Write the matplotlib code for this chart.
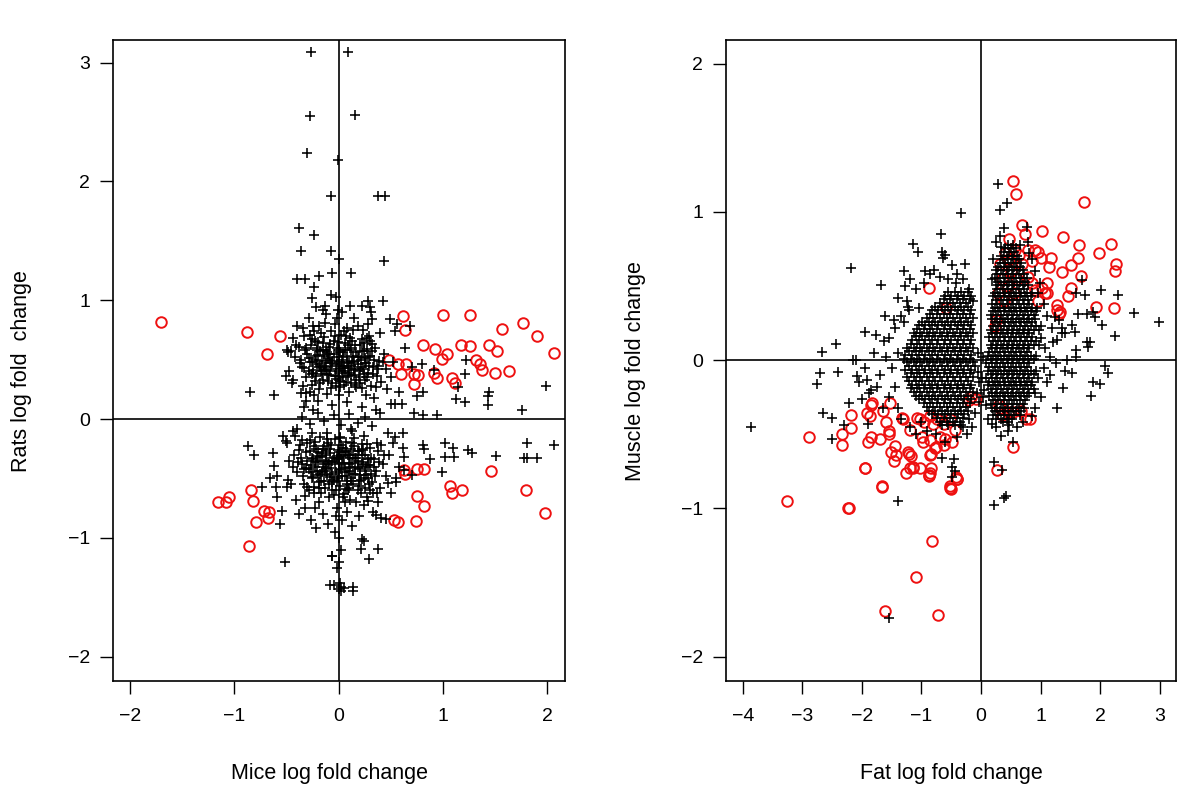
import matplotlib
matplotlib.use("Agg")
import matplotlib.pyplot as plt
import numpy as np

plt.rcParams['font.family'] = ['Liberation Sans', 'DejaVu Sans']

# ---------------- Left panel: mice vs rats ----------------
mice_sig = [-1.70, -0.88, -0.56, -0.69, -1.16, -1.08, -1.05, -0.84, -0.82, -0.72, -0.67, -0.68, -0.79, -0.86,
            0.62, 0.64, 1.00, 1.26, 1.57, 1.77, 1.90, 0.81, 0.92, 1.04, 0.99, 1.17, 1.26, 1.44, 1.52, 2.06,
            0.485, 0.57, 0.645, 0.60, 0.72, 0.76, 0.72, 0.91, 0.945, 1.09, 1.115, 1.32, 1.35, 1.37, 1.50, 1.63,
            0.63, 0.64, 0.75, 0.82, 1.46, 1.07, 1.09, 1.18, 0.75, 0.82, 1.80, 1.98, 0.53, 0.57, 0.74]
rats_sig = [0.82, 0.73, 0.70, 0.55, -0.70, -0.70, -0.66, -0.60, -0.69, -0.77, -0.78, -0.83, -0.87, -1.07,
            0.865, 0.75, 0.875, 0.875, 0.76, 0.81, 0.70, 0.62, 0.59, 0.545, 0.505, 0.62, 0.615, 0.62, 0.575, 0.555,
            0.50, 0.46, 0.46, 0.375, 0.38, 0.37, 0.295, 0.39, 0.345, 0.345, 0.305, 0.50, 0.46, 0.41, 0.39, 0.405,
            -0.43, -0.46, -0.42, -0.42, -0.44, -0.56, -0.62, -0.60, -0.65, -0.73, -0.60, -0.79, -0.85, -0.87, -0.86]

# sparse non-significant genes
mice_sparse = [-0.27, 0.09, -0.28, 0.16, -0.30, -0.01, -0.07, 0.38, 0.44, -0.385, -0.24, -0.36, -0.07, 0.0, 0.43,
               -0.40, -0.32, -0.19, -0.065, 0.115, -0.24, -0.26, -0.07, -0.03, 0.42, -0.22, -0.15, -0.13, -0.01,
               0.105, 0.22, 0.28, 0.30, 0.31, 0.32, -0.34, -0.25, 0.49, 0.555, 0.54, 0.68, 0.635, 0.80, 0.70,
               0.91, 1.22, 1.21, 1.14, 1.12, 1.21, 1.44, 1.43, 1.43, 1.99, 1.76, 0.72, 0.81, 0.945, 0.81, 0.75,
               0.61, 0.58, 0.54, 0.50,
               0.62, 0.54, 0.62, 0.63, 0.81, 0.82, 0.875, 1.02, 1.10, 1.02, 1.11, 1.24, 1.275, 1.51, 1.81, 2.06,
               1.78, 1.81, 1.90, 0.99, 0.63, 0.70, 0.55, 0.47, 0.30, 0.37, 0.28, 0.36, 0.41, 0.45, 0.22, 0.24,
               0.21, 0.38, 0.29, 0.02, 0.14, 0.02, 0.14,
               -0.85, -0.625, -0.875, -0.81, -0.635, -0.625, -0.66, -0.59, -0.49, -0.60, -0.50, -0.74, -0.59,
               -0.54, -0.56, -0.52, -0.06, 0.0, -0.08, 0.0,
               -0.49, -0.46, -0.51, -0.44, -0.31, -0.31, -0.53, -0.44, -0.51, -0.42]
rats_sparse = [3.09, 3.09, 2.55, 2.56, 2.24, 2.18, 1.88, 1.88, 1.88, 1.605, 1.55, 1.41, 1.415, 1.35, 1.33,
               1.18, 1.175, 1.20, 1.23, 1.23, 1.11, 1.02, 1.04, 1.03, 0.99, 0.945, 0.92, 0.95, 0.92,
               0.95, 0.95, 0.99, 0.94, 0.90, 0.84, 0.77, 0.78, 0.84, 0.80, 0.74, 0.78, 0.60, 0.46, 0.44,
               0.41, 0.50, 0.38, 0.27, 0.165, 0.14, 0.23, 0.19, 0.115, 0.28, 0.075, 0.05, 0.03, 0.03, 0.23, 0.19,
               0.13, 0.23, 0.13, 0.13,
               -0.12, -0.15, -0.24, -0.32, -0.22, -0.25, -0.34, -0.20, -0.24, -0.32, -0.32, -0.26, -0.29, -0.31,
               -0.20, -0.215, -0.33, -0.33, -0.33, -0.45, -0.43, -0.47, -0.53, -0.54, -0.60, -0.62, -0.69, -0.81,
               -0.83, -0.84, -1.01, -1.03, -1.09, -1.09, -1.18, -1.41, -1.41, -1.45, -1.45,
               0.225, 0.20, -0.23, -0.30, -0.29, -0.395, -0.50, -0.48, -0.51, -0.57, -0.57, -0.57, -0.66,
               -0.775, -0.88, -1.20, -1.15, -1.20, -1.40, -1.43,
               0.56, 0.575, 0.36, 0.33, 0.22, 0.15, -0.14, -0.10, -0.185, -0.14]

# dense cores (upregulated / downregulated clouds)
mice_core_up = [-0.42, -0.38, -0.35, -0.33, -0.31, -0.30, -0.28, -0.27, -0.26, -0.25, -0.24, -0.23, -0.22, -0.21,
                -0.20, -0.19, -0.18, -0.17, -0.16, -0.15, -0.14, -0.13, -0.12, -0.11, -0.10, -0.09, -0.08, -0.07,
                -0.06, -0.05, -0.04, -0.03, -0.02, -0.01, 0.00, 0.01, 0.02, 0.03, 0.04, 0.05, 0.06, 0.07, 0.08,
                0.09, 0.10, 0.11, 0.12, 0.13, 0.14, 0.15, 0.16, 0.17, 0.18, 0.19, 0.20, 0.21, 0.22, 0.23, 0.24,
                0.25, 0.26, 0.27, 0.28, 0.30, 0.31, 0.33, 0.35, 0.37, 0.39, 0.41, 0.43, 0.45,
                -0.48, -0.45, -0.40, -0.36, -0.29, -0.20, -0.12, -0.06, 0.03, 0.08, 0.15, 0.22, 0.28, 0.34, 0.40,
                0.46, 0.50, 0.52, 0.36, -0.33, -0.50, -0.44,
                -0.22, -0.15, -0.08, -0.02, 0.04, 0.10, 0.16, 0.12, -0.18, -0.05, 0.06, -0.12, 0.00, 0.20, -0.26,
                0.25, -0.10, 0.02, 0.14, -0.04,
                -0.35, -0.28, -0.20, -0.14, -0.05, 0.02, 0.10, 0.18, 0.25, 0.32, -0.40, 0.40, -0.25, 0.12,
                -0.37, -0.32, -0.29, -0.26, -0.23, -0.19, -0.17, -0.14, -0.11, -0.09, -0.06, -0.03, -0.01, 0.01,
                0.04, 0.07, 0.09, 0.12, 0.15, 0.17, 0.19, 0.22, 0.24, 0.27, 0.29, 0.32, 0.34, 0.38, -0.34, -0.21,
                -0.07, 0.05, 0.18, 0.30, -0.28, -0.13, 0.00, 0.11, 0.23, 0.36, -0.41, -0.24, -0.02, 0.08, 0.26, 0.42,
                -0.33, -0.29, -0.25, -0.21, -0.18, -0.15, -0.12, -0.09, -0.06, -0.03, 0.00, 0.03, 0.06, 0.09,
                0.12, 0.15, 0.18, 0.21, 0.24, 0.27, -0.31, -0.26, -0.20, -0.14, -0.08, -0.02, 0.04, 0.10, 0.16,
                0.22, 0.28, 0.33, -0.36, -0.23, -0.11, 0.01, 0.13, 0.25, 0.37, -0.28, -0.16, -0.04, 0.08, 0.20,
                0.32, -0.19, -0.07, 0.05, 0.17, 0.29]
rats_core_up = [0.52, 0.61, 0.44, 0.70, 0.35, 0.55, 0.48, 0.62, 0.29, 0.41, 0.74, 0.53, 0.36, 0.46,
                0.65, 0.25, 0.57, 0.40, 0.49, 0.33, 0.69, 0.44, 0.58, 0.21, 0.51, 0.37, 0.63, 0.45,
                0.30, 0.55, 0.80, 0.42, 0.60, 0.34, 0.48, 0.27, 0.71, 0.39, 0.56, 0.45, 0.64, 0.31, 0.52,
                0.43, 0.23, 0.60, 0.37, 0.49, 0.75, 0.41, 0.29, 0.56, 0.46, 0.35, 0.62, 0.50, 0.26, 0.42, 0.57,
                0.33, 0.47, 0.68, 0.39, 0.53, 0.28, 0.44, 0.60, 0.36, 0.49, 0.31, 0.55, 0.42,
                0.40, 0.30, 0.78, 0.22, 0.85, 0.15, 0.88, 0.12, 0.90, 0.14, 0.85, 0.10, 0.80, 0.18, 0.72,
                0.25, 0.35, 0.48, 0.08, 0.10, 0.58, 0.68,
                0.50, 0.58, 0.40, 0.52, 0.35, 0.47, 0.62, 0.30, 0.30, 0.66, 0.58, 0.47, 0.40, 0.40, 0.38,
                0.51, 0.32, 0.45, 0.53, 0.36,
                0.02, -0.04, 0.05, -0.02, 0.03, -0.05, 0.04, -0.03, 0.02, -0.06, -0.08, 0.05, 0.08, -0.08,
                0.47, 0.58, 0.40, 0.67, 0.32, 0.44, 0.72, 0.53, 0.38, 0.61, 0.49, 0.28, 0.65, 0.56,
                0.43, 0.70, 0.36, 0.58, 0.48, 0.33, 0.52, 0.67, 0.38, 0.59, 0.45, 0.63, 0.50, 0.42, 0.28, 0.60,
                0.74, 0.29, 0.78, 0.66, 0.23, 0.81, 0.20, 0.68, 0.75, 0.27, 0.62, 0.20, 0.85, 0.77, 0.20, 0.48,
                0.43, 0.51, 0.39, 0.58, 0.45, 0.64, 0.41, 0.55, 0.47, 0.36, 0.58, 0.50, 0.40, 0.62,
                0.45, 0.37, 0.52, 0.44, 0.64, 0.35, 0.60, 0.48, 0.54, 0.42, 0.50, 0.46, 0.53, 0.39, 0.42,
                0.57, 0.52, 0.38, 0.50, 0.66, 0.56, 0.32, 0.66, 0.47, 0.45, 0.71, 0.38, 0.70, 0.48, 0.30,
                0.57, 0.78, 0.26, 0.74, 0.27, 0.70]
mice_core_down = [-0.43, -0.40, -0.37, -0.35, -0.33, -0.31, -0.29, -0.28, -0.26, -0.25, -0.24, -0.22, -0.21,
                  -0.20, -0.19, -0.18, -0.17, -0.16, -0.15, -0.14, -0.13, -0.12, -0.11, -0.10, -0.09, -0.08,
                  -0.07, -0.06, -0.05, -0.04, -0.03, -0.02, -0.01, 0.00, 0.01, 0.02, 0.03, 0.04, 0.05, 0.06,
                  0.07, 0.08, 0.09, 0.10, 0.11, 0.12, 0.13, 0.14, 0.15, 0.16, 0.17, 0.18, 0.19, 0.20, 0.21,
                  0.22, 0.23, 0.24, 0.25, 0.26, 0.28, 0.30, 0.32, 0.34, 0.36, 0.38, 0.40, 0.42, 0.45,
                  -0.48, -0.46, -0.41, -0.38, -0.32, -0.27, -0.22, -0.15, -0.10, -0.04, 0.03, 0.08, 0.13, 0.19,
                  0.27, 0.33, 0.38, 0.48, 0.50, 0.55, 0.58, 0.52, 0.47, -0.50,
                  -0.30, -0.23, -0.16, -0.09, -0.02, 0.05, 0.11, 0.18, -0.20, -0.12, 0.00, 0.08, -0.06, 0.14,
                  -0.27, 0.02, -0.14, 0.22, -0.03, 0.10,
                  0.00, 0.02, -0.02, 0.01, -0.05, 0.05, -0.06,
                  -0.38, -0.34, -0.30, -0.27, -0.24, -0.21, -0.18, -0.15, -0.12, -0.09, -0.07, -0.04, -0.01, 0.02,
                  0.04, 0.07, 0.10, 0.12, 0.15, 0.18, 0.20, 0.23, 0.26, 0.29, 0.31, 0.35, 0.39, 0.43, -0.32, -0.19,
                  -0.06, 0.06, 0.17, 0.28, -0.26, -0.11, 0.01, 0.13, 0.24, 0.37, -0.44, -0.23, -0.03, 0.09, 0.21, 0.33,
                  -0.36, -0.31, -0.28, -0.25, -0.22, -0.19, -0.16, -0.13, -0.10, -0.08, -0.05, -0.02, 0.00, 0.03,
                  0.06, 0.08, 0.11, 0.14, 0.16, 0.19, 0.22, 0.25, 0.27, 0.30, -0.35, -0.29, -0.23, -0.17, -0.11,
                  -0.05, 0.01, 0.07, 0.13, 0.19, 0.25, 0.31, -0.33, -0.26, -0.20, -0.14, -0.08, -0.02, 0.04, 0.10,
                  0.16, 0.22, 0.28, -0.30, -0.24, -0.18, -0.12, -0.06, 0.00, 0.06, 0.12, 0.18, 0.24, -0.39, 0.34, 0.41]
rats_core_down = [-0.30, -0.45, -0.22, -0.38, -0.55, -0.28, -0.42, -0.18, -0.50, -0.34, -0.62, -0.25, -0.44,
                  -0.36, -0.70, -0.15, -0.52, -0.31, -0.40, -0.23, -0.58, -0.35, -0.47, -0.20, -0.66, -0.29,
                  -0.41, -0.53, -0.33, -0.17, -0.45, -0.75, -0.26, -0.38, -0.56, -0.22, -0.48, -0.32, -0.63,
                  -0.41, -0.19, -0.52, -0.30, -0.44, -0.68, -0.25, -0.37, -0.55, -0.16, -0.46, -0.33, -0.60,
                  -0.27, -0.42, -0.51, -0.21, -0.36, -0.72, -0.30, -0.47, -0.39, -0.24, -0.53, -0.34, -0.44,
                  -0.27, -0.58, -0.38, -0.48,
                  -0.35, -0.55, -0.68, -0.80, -0.75, -0.85, -0.92, -0.80, -0.88, -0.95, -0.85, -0.78, -0.90,
                  -0.82, -0.66, -0.78, -0.70, -0.30, -0.62, -0.50, -0.40, -0.20, -0.12, -0.20,
                  -0.35, -0.40, -0.45, -0.38, -0.34, -0.37, -0.33, -0.40, -0.28, -0.30, -0.28, -0.45, -0.46,
                  -0.30, -0.45, -0.42, -0.52, -0.30, -0.60, -0.58,
                  -1.00, -1.10, -1.25, -1.38, -1.40, -1.42, -1.15,
                  -0.26, -0.48, -0.20, -0.39, -0.57, -0.31, -0.46, -0.25, -0.42, -0.55, -0.22, -0.36, -0.50, -0.30,
                  -0.66, -0.27, -0.38, -0.50, -0.23, -0.35, -0.47, -0.26, -0.40, -0.55, -0.33, -0.48, -0.36, -0.30,
                  -0.65, -0.58, -0.60, -0.70, -0.70, -0.50, -0.12, -0.12, -0.15, -0.10, -0.14, -0.20, -0.40, -0.75,
                  -0.82, -0.60, -0.62, -0.62,
                  -0.33, -0.41, -0.27, -0.49, -0.35, -0.53, -0.29, -0.44, -0.36, -0.25, -0.51, -0.31, -0.43, -0.37,
                  -0.28, -0.55, -0.40, -0.46, -0.33, -0.52, -0.38, -0.44, -0.21, -0.39, -0.18, -0.60, -0.19, -0.62,
                  -0.17, -0.64, -0.16, -0.59, -0.20, -0.56, -0.58, -0.46, -0.42, -0.33, -0.47, -0.38, -0.49, -0.52,
                  -0.24, -0.30, -0.41, -0.25, -0.34, -0.57, -0.23, -0.32, -0.27, -0.35, -0.33, -0.48, -0.52, -0.27,
                  -0.50, -0.36, -0.40, -0.22]

# ---------------- Right panel: fat vs muscle ----------------
fat_sig = [0.53, 0.58, 1.73, 0.68, 0.74, 1.03, 1.37, 1.65, 2.18, 1.97, 1.62, 1.50, 2.27, 2.25, 1.36, 1.68,
           1.17, 1.14, 0.96, 0.90, 1.00, 0.86, 1.51, 1.46, 1.27, 1.27, 1.30, 1.10, 1.10, 1.93, 2.23, 1.33,
           0.32, 0.29, 0.25, 0.46, 0.40, 0.46, 0.57, 0.63, 0.68, 0.79, 0.85, 0.91, 1.02, 0.79, 0.96, 1.07,
           0.23, 0.35, 0.50, 0.45, 0.60, 0.38, 0.55,
           0.32, 0.35, 0.54, 0.67, 0.75, 0.82, 0.54, 0.26, 0.45, 0.30, -0.08,
           -2.88, -3.26, -2.22, -1.94, -1.66, -2.18, -2.19, -2.34, -2.34, -1.85, -1.87, -1.92, -1.59, -1.70,
           -1.90, -1.84, -1.54, -1.55, -1.52, -1.45, -1.46, -1.42, -1.31, -1.20, -1.21, -1.17, -1.19, -1.14,
           -1.26, -0.99, -0.97, -0.88, -0.85, -0.84, -0.84, -0.77, -0.76, -0.62, -0.60, -0.49, -0.525, -0.51,
           -0.40, -0.42, -0.83, -1.085, -1.62, -0.73, -0.17, -0.21, -0.88, -0.59, -1.83, -1.64, -1.53, -1.33,
           -1.02, -0.80, -0.52, -0.44, -0.69, -0.86, -0.86, -1.22, -1.14, -1.02, -0.88, -0.52, -0.41, -1.95,
           -1.67, -2.23, -1.07, -0.96, -0.85, -0.74, -0.63]
muscle_sig = [1.21, 1.12, 1.07, 0.91, 0.85, 0.87, 0.83, 0.78, 0.785, 0.725, 0.69, 0.645, 0.65, 0.60, 0.595, 0.565,
              0.69, 0.63, 0.73, 0.74, 0.69, 0.67, 0.49, 0.43, 0.37, 0.34, 0.31, 0.52, 0.45, 0.36, 0.355, 0.325,
              0.65, 0.45, 0.27, 0.82, 0.72, 0.685, 0.74, 0.71, 0.65, 0.56, 0.52, 0.47, 0.49, 0.74, 0.40, 0.45,
              0.23, 0.55, 0.60, 0.50, 0.55, 0.40, 0.45,
              -0.325, -0.37, -0.35, -0.34, -0.40, -0.40, -0.585, -0.74, -0.35, -0.30, -0.26,
              -0.52, -0.95, -1.00, -0.73, -0.855, -0.37, -0.46, -0.50, -0.57, -0.30, -0.38, -0.36, -0.42, -0.53,
              -0.55, -0.52, -0.48, -0.50, -0.62, -0.58, -0.68, -0.64, -0.40, -0.47, -0.63, -0.65, -0.73, -0.73,
              -0.76, -0.52, -0.55, -0.78, -0.76, -0.73, -0.635, -0.595, -0.585, -0.57, -0.53, -0.55, -0.86, -0.87,
              -0.80, -0.79, -1.22, -1.46, -1.69, -1.72, -0.25, -0.27, 0.49, 0.35, -0.29, -0.34, -0.29, -0.39,
              -0.40, -0.43, -0.40, -0.47, -0.52, -0.54, -0.64, -0.62, -0.72, -0.73, -0.775, -0.85, -0.80, -0.73,
              -0.85, -1.00, -0.39, -0.415, -0.38, -0.40, -0.43]

fat_sparse = [-0.33, -0.68, -1.14, -1.06, -0.66, -0.60, -0.64, -2.18, -1.68, -1.30, -0.94, -0.79, -0.69, -0.40,
              -0.27, -0.48, -1.25, -1.22, -1.21, -1.46, -1.30, -1.94, -1.77, -1.63, -2.43, -2.67, -2.15, -2.10,
              -2.71, -2.40, -2.75, -2.08, -2.05, -1.91, -1.85, -3.86, -2.66, -2.50, -2.30, -2.50, -2.22, -1.99,
              -1.88, -1.90, -1.39, -1.55, -0.65, -0.46, -0.49, -0.43, -0.49, -0.23, -0.11,
              0.29, 0.44, 0.32, 0.39, 0.32, 0.34, 0.77, 0.79,
              1.69, 2.01, 2.30, 1.745, 1.59, 2.56, 2.98, 1.91, 1.63, 1.77, 1.88, 2.03, 2.24, 1.83, 1.77, 1.80,
              1.59, 1.60, 1.41, 1.52, 1.36, 1.24, 1.30, 1.19, 1.35, 1.27, 1.58, 1.44, 1.41, 1.52, 2.08, 2.13,
              1.38, 1.87, 2.00, 1.85, 1.28, 0.18, 0.47, 0.335, 0.54, 0.21, 0.35, 0.38, 0.42, 0.22]
muscle_sparse = [0.995, 0.85, 0.785, 0.73, 0.73, 0.71, 0.69, 0.62, 0.51, 0.60, 0.60, 0.61, 0.56, 0.58,
                 0.65, 0.64, 0.40, 0.36, 0.34, 0.27, 0.26, 0.19, 0.17, 0.13, 0.11, 0.056, 0.0, 0.0,
                 -0.085, -0.08, -0.16, -0.11, -0.15, -0.135, -0.20, -0.45, -0.36, -0.39, -0.44, -0.53, -0.29, -0.26,
                 -0.22, -0.43, -0.95, -1.74, -0.66, -0.67, -0.72, -0.75, -0.79, -0.50, -0.36,
                 1.19, 1.06, 1.01, 0.89, 0.84, 0.76, 0.90, 0.80,
                 0.54, 0.47, 0.44, 0.44, 0.45, 0.32, 0.26, 0.29, 0.31, 0.31, 0.325, 0.24, 0.16, 0.12, 0.12, 0.09,
                 0.067, 0.02, 0.18, 0.24, 0.18, 0.29, 0.27, 0.22, 0.22, 0.135, 0.19, 0.0, -0.07, -0.085, -0.04, -0.09,
                 -0.19, -0.15, -0.16, -0.24, -0.32, -0.43, -0.435, -0.51, -0.55, -0.685, -0.74, -0.93, -0.92, -0.98]

# dense cloud for fat-downregulated genes: one muscle value per row, fat values along the row
neg_row_muscle = [0.46, 0.435, 0.41, 0.385, 0.36, 0.335, 0.31, 0.285, 0.26, 0.235, 0.21, 0.185, 0.16, 0.135,
                  0.11, 0.085, 0.06, 0.035, 0.01, -0.015, -0.04, -0.065, -0.09, -0.115, -0.14, -0.165, -0.19,
                  -0.215, -0.24, -0.265, -0.29, -0.315, -0.34, -0.365, -0.39, -0.415, -0.44]
neg_row_fat = [[-0.55, -0.44, -0.33, -0.22],
               [-0.61, -0.50, -0.39, -0.28, -0.17],
               [-0.63, -0.52, -0.41, -0.30, -0.19],
               [-0.69, -0.58, -0.47, -0.36, -0.25],
               [-0.77, -0.66, -0.55, -0.44, -0.33, -0.22],
               [-0.83, -0.72, -0.61, -0.50, -0.39, -0.28, -0.17],
               [-0.85, -0.74, -0.63, -0.52, -0.41, -0.30, -0.19],
               [-0.91, -0.80, -0.69, -0.58, -0.47, -0.36, -0.25, -0.14],
               [-0.99, -0.88, -0.77, -0.66, -0.55, -0.44, -0.33, -0.22],
               [-1.05, -0.94, -0.83, -0.72, -0.61, -0.50, -0.39, -0.28, -0.17],
               [-1.07, -0.96, -0.85, -0.74, -0.63, -0.52, -0.41, -0.30, -0.19],
               [-1.13, -1.02, -0.91, -0.80, -0.69, -0.58, -0.47, -0.36, -0.25, -0.14],
               [-1.10, -0.99, -0.88, -0.77, -0.66, -0.55, -0.44, -0.33, -0.22],
               [-1.16, -1.05, -0.94, -0.83, -0.72, -0.61, -0.50, -0.39, -0.28, -0.17],
               [-1.18, -1.07, -0.96, -0.85, -0.74, -0.63, -0.52, -0.41, -0.30, -0.19],
               [-1.24, -1.13, -1.02, -0.91, -0.80, -0.69, -0.58, -0.47, -0.36, -0.25, -0.14],
               [-1.21, -1.10, -0.99, -0.88, -0.77, -0.66, -0.55, -0.44, -0.33, -0.22],
               [-1.27, -1.16, -1.05, -0.94, -0.83, -0.72, -0.61, -0.50, -0.39, -0.28, -0.17],
               [-1.29, -1.18, -1.07, -0.96, -0.85, -0.74, -0.63, -0.52, -0.41, -0.30, -0.19],
               [-1.24, -1.13, -1.02, -0.91, -0.80, -0.69, -0.58, -0.47, -0.36, -0.25, -0.14],
               [-1.21, -1.10, -0.99, -0.88, -0.77, -0.66, -0.55, -0.44, -0.33, -0.22, -0.11],
               [-1.27, -1.16, -1.05, -0.94, -0.83, -0.72, -0.61, -0.50, -0.39, -0.28, -0.17],
               [-1.18, -1.07, -0.96, -0.85, -0.74, -0.63, -0.52, -0.41, -0.30, -0.19],
               [-1.24, -1.13, -1.02, -0.91, -0.80, -0.69, -0.58, -0.47, -0.36, -0.25, -0.14],
               [-1.21, -1.10, -0.99, -0.88, -0.77, -0.66, -0.55, -0.44, -0.33, -0.22],
               [-1.16, -1.05, -0.94, -0.83, -0.72, -0.61, -0.50, -0.39, -0.28, -0.17],
               [-1.18, -1.07, -0.96, -0.85, -0.74, -0.63, -0.52, -0.41, -0.30, -0.19],
               [-1.13, -1.02, -0.91, -0.80, -0.69, -0.58, -0.47, -0.36, -0.25, -0.14],
               [-1.10, -0.99, -0.88, -0.77, -0.66, -0.55, -0.44, -0.33, -0.22],
               [-1.05, -0.94, -0.83, -0.72, -0.61, -0.50, -0.39, -0.28, -0.17],
               [-0.96, -0.85, -0.74, -0.63, -0.52, -0.41, -0.30, -0.19],
               [-0.91, -0.80, -0.69, -0.58, -0.47, -0.36, -0.25],
               [-0.88, -0.77, -0.66, -0.55, -0.44, -0.33, -0.22],
               [-0.83, -0.72, -0.61, -0.50, -0.39, -0.28],
               [-0.74, -0.63, -0.52, -0.41, -0.30],
               [-0.69, -0.58, -0.47, -0.36],
               [-0.66, -0.55, -0.44, -0.33]]
# dense cloud for fat-upregulated genes
pos_row_muscle = [0.78, 0.755, 0.73, 0.705, 0.68, 0.655, 0.63, 0.605, 0.58, 0.555, 0.53, 0.505, 0.48, 0.455,
                  0.43, 0.405, 0.38, 0.355, 0.33, 0.305, 0.28, 0.255, 0.23, 0.205, 0.18, 0.155, 0.13, 0.105,
                  0.08, 0.055, 0.03, 0.005, -0.02, -0.045, -0.07, -0.095, -0.12, -0.145, -0.17, -0.195, -0.22,
                  -0.245, -0.27, -0.295, -0.32, -0.345, -0.37, -0.395, -0.42]
pos_row_fat = [[0.45, 0.54],
               [0.405, 0.495, 0.585],
               [0.38, 0.47, 0.56],
               [0.34, 0.43, 0.52, 0.61],
               [0.36, 0.45, 0.54, 0.63],
               [0.315, 0.405, 0.495, 0.585, 0.675],
               [0.29, 0.38, 0.47, 0.56, 0.65],
               [0.25, 0.34, 0.43, 0.52, 0.61, 0.70],
               [0.27, 0.36, 0.45, 0.54, 0.63, 0.72],
               [0.225, 0.315, 0.405, 0.495, 0.585, 0.675, 0.765],
               [0.29, 0.38, 0.47, 0.56, 0.65, 0.74],
               [0.25, 0.34, 0.43, 0.52, 0.61, 0.70, 0.79],
               [0.27, 0.36, 0.45, 0.54, 0.63, 0.72],
               [0.225, 0.315, 0.405, 0.495, 0.585, 0.675, 0.765, 0.855],
               [0.20, 0.29, 0.38, 0.47, 0.56, 0.65, 0.74, 0.83],
               [0.25, 0.34, 0.43, 0.52, 0.61, 0.70, 0.79],
               [0.18, 0.27, 0.36, 0.45, 0.54, 0.63, 0.72, 0.81],
               [0.225, 0.315, 0.405, 0.495, 0.585, 0.675, 0.765, 0.855, 0.945],
               [0.20, 0.29, 0.38, 0.47, 0.56, 0.65, 0.74, 0.83, 0.92],
               [0.16, 0.25, 0.34, 0.43, 0.52, 0.61, 0.70, 0.79, 0.88],
               [0.18, 0.27, 0.36, 0.45, 0.54, 0.63, 0.72, 0.81, 0.90],
               [0.225, 0.315, 0.405, 0.495, 0.585, 0.675, 0.765, 0.855],
               [0.20, 0.29, 0.38, 0.47, 0.56, 0.65, 0.74, 0.83, 0.92, 1.01],
               [0.16, 0.25, 0.34, 0.43, 0.52, 0.61, 0.70, 0.79, 0.88, 0.97],
               [0.18, 0.27, 0.36, 0.45, 0.54, 0.63, 0.72, 0.81],
               [0.135, 0.225, 0.315, 0.405, 0.495, 0.585, 0.675, 0.765, 0.855],
               [0.20, 0.29, 0.38, 0.47, 0.56, 0.65, 0.74, 0.83, 0.92],
               [0.16, 0.25, 0.34, 0.43, 0.52, 0.61, 0.70, 0.79, 0.88, 0.97],
               [0.18, 0.27, 0.36, 0.45, 0.54, 0.63, 0.72, 0.81],
               [0.135, 0.225, 0.315, 0.405, 0.495, 0.585, 0.675, 0.765],
               [0.11, 0.20, 0.29, 0.38, 0.47, 0.56, 0.65, 0.74, 0.83, 0.92],
               [0.16, 0.25, 0.34, 0.43, 0.52, 0.61, 0.70, 0.79, 0.88],
               [0.09, 0.18, 0.27, 0.36, 0.45, 0.54, 0.63, 0.72, 0.81],
               [0.135, 0.225, 0.315, 0.405, 0.495, 0.585, 0.675, 0.765],
               [0.11, 0.20, 0.29, 0.38, 0.47, 0.56, 0.65, 0.74, 0.83, 0.92],
               [0.16, 0.25, 0.34, 0.43, 0.52, 0.61, 0.70, 0.79, 0.88],
               [0.09, 0.18, 0.27, 0.36, 0.45, 0.54, 0.63, 0.72, 0.81],
               [0.135, 0.225, 0.315, 0.405, 0.495, 0.585, 0.675, 0.765, 0.855],
               [0.11, 0.20, 0.29, 0.38, 0.47, 0.56, 0.65, 0.74, 0.83],
               [0.16, 0.25, 0.34, 0.43, 0.52, 0.61, 0.70, 0.79, 0.88],
               [0.18, 0.27, 0.36, 0.45, 0.54, 0.63, 0.72, 0.81, 0.90],
               [0.135, 0.225, 0.315, 0.405, 0.495, 0.585, 0.675, 0.765],
               [0.20, 0.29, 0.38, 0.47, 0.56, 0.65, 0.74],
               [0.16, 0.25, 0.34, 0.43, 0.52, 0.61, 0.70],
               [0.18, 0.27, 0.36, 0.45, 0.54, 0.63, 0.72],
               [0.225, 0.315, 0.405, 0.495, 0.585, 0.675],
               [0.20, 0.29, 0.38, 0.47, 0.56, 0.65],
               [0.25, 0.34, 0.43, 0.52],
               [0.36, 0.45]]
# halo around the two clouds
fat_halo = [-0.05, -0.06, -0.04, -0.07, -0.03, 0.02, 0.03, 0.04,
            -1.35, -1.45, -1.55, -1.40, -1.50, -1.60, -1.70, -1.45, -1.55, -1.65, -1.40, -1.35, -1.20, -1.10,
            -1.80, -1.75, -1.95, -1.62, -1.40, -1.10, -0.95, -0.85, -1.28, -1.05, -1.20, -0.55, -0.42, -0.30,
            -0.20, -0.13, -0.75, -0.60, -0.40, -0.30, -0.20, -0.15, -0.90, -1.00,
            0.95, 1.05, 1.10, 1.00, 1.08, 1.15, 1.05, 0.95, 1.10, 1.00, 0.90, 0.85, 0.70, 0.60, 0.45, 0.25,
            0.12, 0.08, 0.05, 0.90, 0.85, 0.80, 0.65, 0.25, 0.20, 0.18, 1.20, 1.25, 1.15, 0.98]
muscle_halo = [0.05, -0.08, -0.15, -0.22, -0.28, -0.12, 0.02, -0.25,
               0.30, 0.22, 0.15, 0.05, -0.05, 0.02, -0.10, -0.18, -0.25, -0.32, -0.32, -0.40, -0.45, -0.50,
               0.05, -0.18, -0.05, 0.30, 0.42, 0.48, 0.52, 0.58, 0.50, 0.35, 0.55, 0.55, 0.52, 0.55,
               0.48, 0.40, -0.50, -0.55, -0.52, -0.45, -0.40, -0.45, -0.48, -0.42,
               0.45, 0.38, 0.30, 0.15, 0.08, 0.02, -0.05, -0.12, -0.15, -0.25, -0.32, -0.38, -0.42, -0.45,
               -0.48, -0.45, -0.40, -0.30, -0.20, 0.60, 0.68, 0.72, 0.78, 0.80, 0.68, 0.55, 0.12, -0.02, -0.10, 0.52]

# ---------------- assemble ----------------
mice_other = mice_sparse + mice_core_up + mice_core_down
rats_other = rats_sparse + rats_core_up + rats_core_down
fat_other = list(fat_sparse) + list(fat_halo)
muscle_other = list(muscle_sparse) + list(muscle_halo)
for yv, xs in zip(neg_row_muscle, neg_row_fat):
    fat_other += xs
    muscle_other += [yv] * len(xs)
for yv, xs in zip(pos_row_muscle, pos_row_fat):
    fat_other += xs
    muscle_other += [yv] * len(xs)

W, H = 1200, 792
fig = plt.figure(figsize=(W / 100, H / 100), dpi=100)
ax1 = fig.add_axes([113 / W, 1 - 681 / H, 452 / W, 641 / H])
ax2 = fig.add_axes([726 / W, 1 - 681 / H, 450 / W, 641 / H])

RED = '#ee1111'


def draw(ax, xs_sig, ys_sig, xs_o, ys_o):
    ax.plot(xs_sig, ys_sig, 'o', ms=7.6, mfc='none', mec=RED, mew=1.4, zorder=3)
    ax.plot(xs_o, ys_o, '+', ms=7.4, color='black', mew=1.15, zorder=4)
    ax.axhline(0, color='black', lw=1.2, zorder=2)
    ax.axvline(0, color='black', lw=1.2, zorder=2)


def style(ax, xlim, ylim, xticks, yticks, xlabel, ylabel, width_px, xlab_x):
    ax.set_xlim(xlim)
    ax.set_ylim(ylim)
    ax.set_xticks(xticks)
    ax.set_yticks(yticks)
    ax.tick_params(axis='both', direction='out', length=9.4, width=1.0, labelsize=14, color='black')
    ax.tick_params(axis='x', pad=10)
    ax.tick_params(axis='y', pad=7)
    for s in ax.spines.values():
        s.set_linewidth(1.2)
    ax.set_xlabel(xlabel, fontsize=15.5)
    ax.set_ylabel(ylabel, fontsize=15.5)
    ax.xaxis.label.set_va('center')
    ax.yaxis.label.set_va('center')
    ax.xaxis.set_label_coords(xlab_x, -92 / 641)
    ax.yaxis.set_label_coords(-91 / width_px, (681 - 371) / 641)


draw(ax1, mice_sig, rats_sig, mice_other, rats_other)
draw(ax2, fat_sig, muscle_sig, fat_other, muscle_other)
style(ax1, (-2.165, 2.17), (-2.205, 3.19), [-2, -1, 0, 1, 2], [-2, -1, 0, 1, 2, 3],
      'Mice log fold change', 'Rats log fold  change', 452, 0.48)
style(ax2, (-4.28, 3.27), (-2.165, 2.16), [-4, -3, -2, -1, 0, 1, 2, 3], [-2, -1, 0, 1, 2],
      'Fat log fold change', 'Muscle log fold change', 450, 0.5)

fig.savefig('out.png', dpi=100)
